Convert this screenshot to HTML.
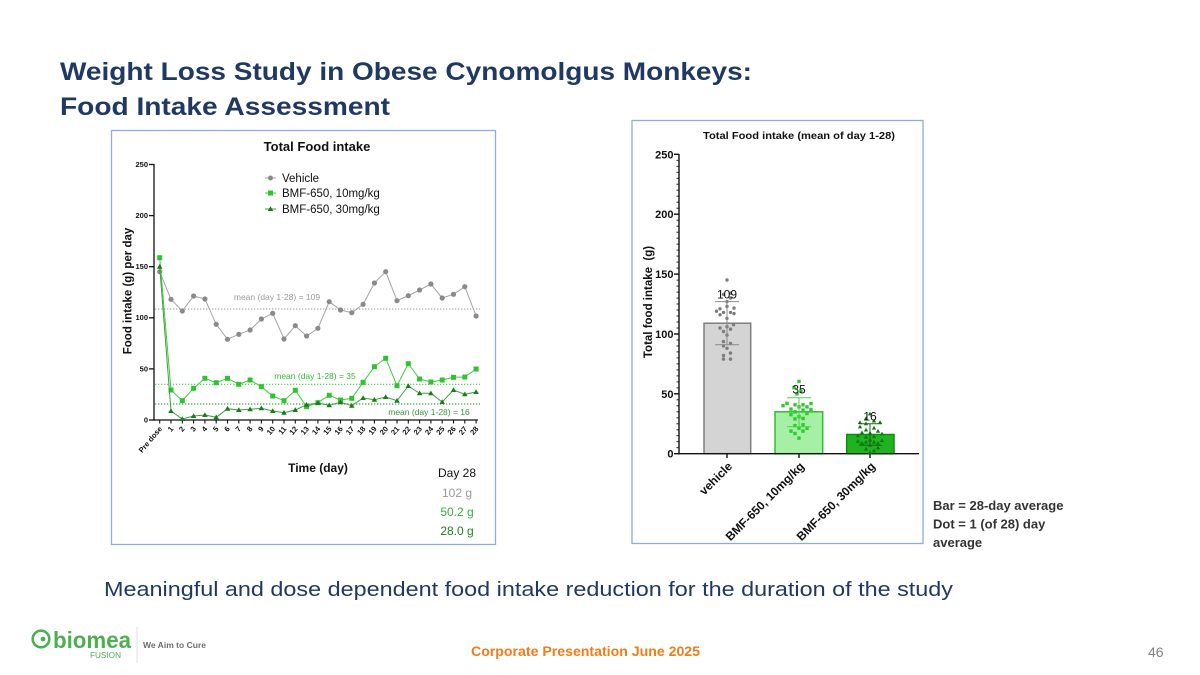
<!DOCTYPE html>
<html><head><meta charset="utf-8"><style>
html,body{margin:0;padding:0;background:#fff;}
svg{display:block;font-family:"Liberation Sans",sans-serif;}
</style></head><body>
<svg width="1200" height="675" viewBox="0 0 1200 675" xmlns="http://www.w3.org/2000/svg">
<defs>
<marker id="mc" markerUnits="userSpaceOnUse" markerWidth="8" markerHeight="8" refX="4" refY="4"><circle cx="4" cy="4" r="2.6" fill="#8a8a8a"/></marker>
<marker id="ms" markerUnits="userSpaceOnUse" markerWidth="8" markerHeight="8" refX="4" refY="4"><rect x="1.5" y="1.5" width="5" height="5" fill="#2fc42f"/></marker>
<marker id="mt" markerUnits="userSpaceOnUse" markerWidth="8" markerHeight="8" refX="4" refY="4"><polygon points="4,1.2 6.8,6 1.2,6" fill="#1a7d1a"/></marker>
</defs>
<rect width="1200" height="675" fill="#fff"/>

<!-- Title -->
<text x="60" y="80" font-size="25" font-weight="bold" fill="#1f3864" textLength="692" lengthAdjust="spacingAndGlyphs">Weight Loss Study in Obese Cynomolgus Monkeys:</text>
<text x="60" y="115" font-size="25" font-weight="bold" fill="#1f3864" textLength="330" lengthAdjust="spacingAndGlyphs">Food Intake Assessment</text>

<!-- LEFT CHART -->
<rect x="111.5" y="130.5" width="384" height="414" fill="none" stroke="#8faadc" stroke-width="1.3"/>
<text x="317" y="151" font-size="13" font-weight="bold" text-anchor="middle" fill="#111">Total Food intake</text>

<!-- axes -->
<g stroke="#111" stroke-width="1.3">
<line x1="154" y1="164" x2="154" y2="420.6"/>
<line x1="153.4" y1="420" x2="478" y2="420"/>
<line x1="149" y1="164.5" x2="154" y2="164.5"/>
<line x1="149" y1="215.6" x2="154" y2="215.6"/>
<line x1="149" y1="266.7" x2="154" y2="266.7"/>
<line x1="149" y1="317.8" x2="154" y2="317.8"/>
<line x1="149" y1="368.9" x2="154" y2="368.9"/>
<line x1="149" y1="420" x2="154" y2="420"/>
</g>
<g font-size="7.5" font-weight="bold" text-anchor="end" fill="#111">
<text x="148" y="167">250</text>
<text x="148" y="218">200</text>
<text x="148" y="269">150</text>
<text x="148" y="320">100</text>
<text x="148" y="371.5">50</text>
<text x="148" y="422.5">0</text>
</g>
<!-- x ticks -->
<g stroke="#111" stroke-width="1.1">
<line x1="159.7" y1="420" x2="159.7" y2="423.5"/><line x1="171" y1="420" x2="171" y2="423.5"/><line x1="182.3" y1="420" x2="182.3" y2="423.5"/><line x1="193.6" y1="420" x2="193.6" y2="423.5"/><line x1="204.9" y1="420" x2="204.9" y2="423.5"/><line x1="216.2" y1="420" x2="216.2" y2="423.5"/><line x1="227.5" y1="420" x2="227.5" y2="423.5"/><line x1="238.8" y1="420" x2="238.8" y2="423.5"/><line x1="250.1" y1="420" x2="250.1" y2="423.5"/><line x1="261.4" y1="420" x2="261.4" y2="423.5"/><line x1="272.7" y1="420" x2="272.7" y2="423.5"/><line x1="284" y1="420" x2="284" y2="423.5"/><line x1="295.3" y1="420" x2="295.3" y2="423.5"/><line x1="306.6" y1="420" x2="306.6" y2="423.5"/><line x1="317.9" y1="420" x2="317.9" y2="423.5"/><line x1="329.2" y1="420" x2="329.2" y2="423.5"/><line x1="340.5" y1="420" x2="340.5" y2="423.5"/><line x1="351.8" y1="420" x2="351.8" y2="423.5"/><line x1="363.1" y1="420" x2="363.1" y2="423.5"/><line x1="374.4" y1="420" x2="374.4" y2="423.5"/><line x1="385.7" y1="420" x2="385.7" y2="423.5"/><line x1="397" y1="420" x2="397" y2="423.5"/><line x1="408.3" y1="420" x2="408.3" y2="423.5"/><line x1="419.6" y1="420" x2="419.6" y2="423.5"/><line x1="430.9" y1="420" x2="430.9" y2="423.5"/><line x1="442.2" y1="420" x2="442.2" y2="423.5"/><line x1="453.5" y1="420" x2="453.5" y2="423.5"/><line x1="464.8" y1="420" x2="464.8" y2="423.5"/><line x1="476.1" y1="420" x2="476.1" y2="423.5"/>
</g>
<g font-size="7.5" font-weight="bold" text-anchor="end" fill="#111">
<text transform="translate(162.5,429) rotate(-50)">Pre dose</text>
<text transform="translate(173.8,429) rotate(-50)">1</text>
<text transform="translate(185.1,429) rotate(-50)">2</text>
<text transform="translate(196.4,429) rotate(-50)">3</text>
<text transform="translate(207.7,429) rotate(-50)">4</text>
<text transform="translate(219,429) rotate(-50)">5</text>
<text transform="translate(230.3,429) rotate(-50)">6</text>
<text transform="translate(241.6,429) rotate(-50)">7</text>
<text transform="translate(252.9,429) rotate(-50)">8</text>
<text transform="translate(264.2,429) rotate(-50)">9</text>
<text transform="translate(275.5,429) rotate(-50)">10</text>
<text transform="translate(286.8,429) rotate(-50)">11</text>
<text transform="translate(298.1,429) rotate(-50)">12</text>
<text transform="translate(309.4,429) rotate(-50)">13</text>
<text transform="translate(320.7,429) rotate(-50)">14</text>
<text transform="translate(332,429) rotate(-50)">15</text>
<text transform="translate(343.3,429) rotate(-50)">16</text>
<text transform="translate(354.6,429) rotate(-50)">17</text>
<text transform="translate(365.9,429) rotate(-50)">18</text>
<text transform="translate(377.2,429) rotate(-50)">19</text>
<text transform="translate(388.5,429) rotate(-50)">20</text>
<text transform="translate(399.8,429) rotate(-50)">21</text>
<text transform="translate(411.1,429) rotate(-50)">22</text>
<text transform="translate(422.4,429) rotate(-50)">23</text>
<text transform="translate(433.7,429) rotate(-50)">24</text>
<text transform="translate(445,429) rotate(-50)">25</text>
<text transform="translate(456.3,429) rotate(-50)">26</text>
<text transform="translate(467.6,429) rotate(-50)">27</text>
<text transform="translate(478.9,429) rotate(-50)">28</text>
</g>
<text transform="translate(131.5,291) rotate(-90)" font-size="11.5" font-weight="bold" text-anchor="middle" fill="#111">Food intake (g) per day</text>
<text x="318" y="472" font-size="12" font-weight="bold" text-anchor="middle" fill="#111">Time (day)</text>

<!-- mean lines -->
<line x1="155" y1="309" x2="480" y2="309" stroke="#aaaaaa" stroke-width="1.2" stroke-dasharray="1.3 1.7"/>
<line x1="155" y1="384.3" x2="480" y2="384.3" stroke="#55c855" stroke-width="1.2" stroke-dasharray="1.3 1.7"/>
<line x1="155" y1="404" x2="480" y2="404" stroke="#4a9e4a" stroke-width="1.2" stroke-dasharray="1.3 1.7"/>
<text x="277" y="300" font-size="8.5" text-anchor="middle" fill="#9a9a9a">mean (day 1-28) = 109</text>
<text x="315" y="379" font-size="8.5" text-anchor="middle" fill="#33bb33">mean (day 1-28) = 35</text>
<text x="429" y="415" font-size="8.5" text-anchor="middle" fill="#3a953a">mean (day 1-28) = 16</text>

<!-- series -->
<polyline fill="none" stroke="#a3a3a3" stroke-width="1" marker-start="url(#mc)" marker-mid="url(#mc)" marker-end="url(#mc)" points="159.7,271.7 171,299.3 182.3,311 193.6,296 204.9,299 216.2,324.3 227.5,339.3 238.8,334.3 250.1,330 261.4,319 272.7,313.3 284,339 295.3,325.7 306.6,336 317.9,328.3 329.2,301.7 340.5,310 351.8,312.7 363.1,304.3 374.4,283 385.7,271.7 397,300.7 408.3,295.7 419.6,290 430.9,284 442.2,298 453.5,294.3 464.8,286.7 476.1,316"/>
<polyline fill="none" stroke="#3ccc3c" stroke-width="1" marker-start="url(#ms)" marker-mid="url(#ms)" marker-end="url(#ms)" points="159.7,257.7 171,390 182.3,400.7 193.6,388.3 204.9,378.3 216.2,382.7 227.5,378.3 238.8,384.3 250.1,380 261.4,386.7 272.7,396 284,400.7 295.3,390.3 306.6,406.7 317.9,402.7 329.2,395.3 340.5,400 351.8,398.3 363.1,382.3 374.4,366.7 385.7,358.3 397,385.7 408.3,363.7 419.6,379 430.9,382 442.2,380 453.5,377.3 464.8,377 476.1,369"/>
<polyline fill="none" stroke="#3f9f3f" stroke-width="1" marker-start="url(#mt)" marker-mid="url(#mt)" marker-end="url(#mt)" points="159.7,266.7 171,411 182.3,419 193.6,416 204.9,415 216.2,417.3 227.5,408.7 238.8,410 250.1,409.3 261.4,408.3 272.7,411 284,412.7 295.3,410 306.6,404.7 317.9,403 329.2,405.3 340.5,402.3 351.8,405.7 363.1,398 374.4,399.7 385.7,397 397,400.7 408.3,386 419.6,393.3 430.9,393.3 442.2,402 453.5,390 464.8,394.3 476.1,392"/>

<!-- legend -->
<line x1="265" y1="178" x2="276" y2="178" stroke="#a3a3a3" stroke-width="1"/><circle cx="270.5" cy="178" r="2.5" fill="#8a8a8a"/>
<text x="282" y="182" font-size="11.5" fill="#111">Vehicle</text>
<line x1="265" y1="193" x2="276" y2="193" stroke="#3ccc3c" stroke-width="1"/><rect x="268" y="190.5" width="5" height="5" fill="#2fc42f"/>
<text x="282" y="197" font-size="11.5" fill="#111">BMF-650, 10mg/kg</text>
<line x1="265" y1="209" x2="276" y2="209" stroke="#3f9f3f" stroke-width="1"/><polygon points="270.5,206.2 273.3,211 267.7,211" fill="#1a7d1a"/>
<text x="282" y="213" font-size="11.5" fill="#111">BMF-650, 30mg/kg</text>

<!-- Day 28 values -->
<text x="457" y="477" font-size="12" text-anchor="middle" fill="#111">Day 28</text>
<text x="457" y="497" font-size="12" text-anchor="middle" fill="#9a9a9a">102 g</text>
<text x="457" y="516" font-size="12" text-anchor="middle" fill="#35b035">50.2 g</text>
<text x="457" y="535" font-size="12" text-anchor="middle" fill="#1f7f1f">28.0 g</text>

<!-- RIGHT CHART -->
<rect x="632" y="120.5" width="291" height="423" fill="none" stroke="#8faadc" stroke-width="1.3"/>
<text x="799" y="139" font-size="10.5" font-weight="bold" text-anchor="middle" fill="#111" textLength="192" lengthAdjust="spacingAndGlyphs">Total Food intake (mean of day 1-28)</text>
<text transform="translate(652,302) rotate(-90)" font-size="11.5" font-weight="bold" text-anchor="middle" fill="#111" xml:space="preserve">Total food intake  (g)</text>

<!-- bars -->
<rect x="704" y="323.2" width="46.7" height="130.5" fill="#d4d4d4" stroke="#7f7f7f" stroke-width="1.5"/>
<rect x="775" y="411.8" width="47.7" height="41.9" fill="#a6f0a6" stroke="#2fbf2f" stroke-width="1.5"/>
<rect x="846.7" y="434.5" width="47.3" height="19.2" fill="#1fb41f" stroke="#0f8f0f" stroke-width="1.5"/>

<!-- axes right -->
<g stroke="#111" stroke-width="1.4">
<line x1="679" y1="154" x2="679" y2="454.4"/>
<line x1="678.3" y1="453.7" x2="919" y2="453.7"/>
<line x1="674" y1="154.3" x2="679" y2="154.3"/>
<line x1="674" y1="214.2" x2="679" y2="214.2"/>
<line x1="674" y1="274.1" x2="679" y2="274.1"/>
<line x1="674" y1="334" x2="679" y2="334"/>
<line x1="674" y1="393.8" x2="679" y2="393.8"/>
<line x1="674" y1="453.7" x2="679" y2="453.7"/>
<line x1="727" y1="453.7" x2="727" y2="458"/>
<line x1="799" y1="453.7" x2="799" y2="458"/>
<line x1="870" y1="453.7" x2="870" y2="458"/>
</g>
<g stroke="#111" stroke-width="0.9">
<line x1="676.5" y1="160.3" x2="679" y2="160.3"/><line x1="676.5" y1="166.3" x2="679" y2="166.3"/><line x1="676.5" y1="172.3" x2="679" y2="172.3"/><line x1="676.5" y1="178.3" x2="679" y2="178.3"/><line x1="676.5" y1="184.2" x2="679" y2="184.2"/><line x1="676.5" y1="190.2" x2="679" y2="190.2"/><line x1="676.5" y1="196.2" x2="679" y2="196.2"/><line x1="676.5" y1="202.2" x2="679" y2="202.2"/><line x1="676.5" y1="208.2" x2="679" y2="208.2"/>
<line x1="676.5" y1="220.2" x2="679" y2="220.2"/><line x1="676.5" y1="226.2" x2="679" y2="226.2"/><line x1="676.5" y1="232.2" x2="679" y2="232.2"/><line x1="676.5" y1="238.2" x2="679" y2="238.2"/><line x1="676.5" y1="244.1" x2="679" y2="244.1"/><line x1="676.5" y1="250.1" x2="679" y2="250.1"/><line x1="676.5" y1="256.1" x2="679" y2="256.1"/><line x1="676.5" y1="262.1" x2="679" y2="262.1"/><line x1="676.5" y1="268.1" x2="679" y2="268.1"/>
<line x1="676.5" y1="280.1" x2="679" y2="280.1"/><line x1="676.5" y1="286.1" x2="679" y2="286.1"/><line x1="676.5" y1="292.1" x2="679" y2="292.1"/><line x1="676.5" y1="298.1" x2="679" y2="298.1"/><line x1="676.5" y1="304" x2="679" y2="304"/><line x1="676.5" y1="310" x2="679" y2="310"/><line x1="676.5" y1="316" x2="679" y2="316"/><line x1="676.5" y1="322" x2="679" y2="322"/><line x1="676.5" y1="328" x2="679" y2="328"/>
<line x1="676.5" y1="340" x2="679" y2="340"/><line x1="676.5" y1="346" x2="679" y2="346"/><line x1="676.5" y1="351.9" x2="679" y2="351.9"/><line x1="676.5" y1="357.9" x2="679" y2="357.9"/><line x1="676.5" y1="363.9" x2="679" y2="363.9"/><line x1="676.5" y1="369.9" x2="679" y2="369.9"/><line x1="676.5" y1="375.9" x2="679" y2="375.9"/><line x1="676.5" y1="381.9" x2="679" y2="381.9"/><line x1="676.5" y1="387.9" x2="679" y2="387.9"/>
<line x1="676.5" y1="399.8" x2="679" y2="399.8"/><line x1="676.5" y1="405.8" x2="679" y2="405.8"/><line x1="676.5" y1="411.8" x2="679" y2="411.8"/><line x1="676.5" y1="417.8" x2="679" y2="417.8"/><line x1="676.5" y1="423.8" x2="679" y2="423.8"/><line x1="676.5" y1="429.8" x2="679" y2="429.8"/><line x1="676.5" y1="435.7" x2="679" y2="435.7"/><line x1="676.5" y1="441.7" x2="679" y2="441.7"/><line x1="676.5" y1="447.7" x2="679" y2="447.7"/>
</g>
<g font-size="11" font-weight="bold" text-anchor="end" fill="#111">
<text x="673.5" y="158.3">250</text>
<text x="673.5" y="218.2">200</text>
<text x="673.5" y="278.1">150</text>
<text x="673.5" y="338">100</text>
<text x="673.5" y="397.8">50</text>
<text x="673.5" y="457.7">0</text>
</g>
<g font-size="12" font-weight="bold" text-anchor="end" fill="#111">
<text transform="translate(733,467) rotate(-45)">vehicle</text>
<text transform="translate(805,467) rotate(-45)">BMF-650, 10mg/kg</text>
<text transform="translate(876,467) rotate(-45)">BMF-650, 30mg/kg</text>
</g>

<!-- vehicle dots -->
<g fill="#7c7c7c">
<circle cx="723.5" cy="359.1" r="1.7"/><circle cx="730.5" cy="359.1" r="1.7"/><circle cx="723.5" cy="355.5" r="1.7"/><circle cx="730.5" cy="353.1" r="1.7"/><circle cx="727" cy="348.3" r="1.7"/><circle cx="723.5" cy="345.9" r="1.7"/><circle cx="730.5" cy="343.5" r="1.7"/><circle cx="723.5" cy="341.6" r="1.7"/>
<circle cx="727" cy="335.1" r="1.7"/><circle cx="723.5" cy="331.5" r="1.7"/><circle cx="730.5" cy="329.2" r="1.7"/><circle cx="720" cy="328" r="1.7"/><circle cx="727" cy="326.7" r="1.7"/><circle cx="733.5" cy="324.8" r="1.7"/>
<circle cx="727" cy="318.4" r="1.7"/><circle cx="720" cy="314.8" r="1.7"/><circle cx="734" cy="313.6" r="1.7"/><circle cx="723.5" cy="312.4" r="1.7"/><circle cx="730.5" cy="312.4" r="1.7"/><circle cx="716.5" cy="311.2" r="1.7"/>
<circle cx="720" cy="308.8" r="1.7"/><circle cx="734" cy="308.1" r="1.7"/><circle cx="727" cy="306.4" r="1.7"/><circle cx="727" cy="301.6" r="1.7"/><circle cx="730.5" cy="298" r="1.7"/><circle cx="723.5" cy="294.4" r="1.7"/><circle cx="730.5" cy="293.2" r="1.7"/><circle cx="727" cy="280" r="1.7"/>
</g>
<!-- vehicle error bar -->
<g stroke="#8a8a8a" stroke-width="1">
<line x1="727" y1="301.6" x2="727" y2="344.7"/>
<line x1="715" y1="301.6" x2="739" y2="301.6"/>
<line x1="715" y1="344.7" x2="739" y2="344.7"/>
</g>
<text x="727" y="298.5" font-size="12" text-anchor="middle" fill="#111">109</text>

<!-- 10mg dots -->
<g fill="#2ecb2e">
<rect x="797.3" y="436.4" width="3.4" height="3.4"/><rect x="793.3" y="431.8" width="3.4" height="3.4"/><rect x="801.3" y="429.4" width="3.4" height="3.4"/><rect x="789.3" y="429.4" width="3.4" height="3.4"/><rect x="797.3" y="426.5" width="3.4" height="3.4"/><rect x="805.3" y="426.6" width="3.4" height="3.4"/><rect x="793.3" y="423.9" width="3.4" height="3.4"/><rect x="801.3" y="423" width="3.4" height="3.4"/>
<rect x="793.3" y="417.2" width="3.4" height="3.4"/><rect x="801.3" y="416.8" width="3.4" height="3.4"/><rect x="797.3" y="414.9" width="3.4" height="3.4"/><rect x="789.3" y="413" width="3.4" height="3.4"/><rect x="805.3" y="411.8" width="3.4" height="3.4"/><rect x="793.3" y="410.2" width="3.4" height="3.4"/>
<rect x="801.3" y="408.3" width="3.4" height="3.4"/><rect x="809.3" y="407.8" width="3.4" height="3.4"/><rect x="789.3" y="407.4" width="3.4" height="3.4"/><rect x="797.3" y="405.2" width="3.4" height="3.4"/><rect x="805.3" y="405.2" width="3.4" height="3.4"/><rect x="781.3" y="404" width="3.4" height="3.4"/><rect x="793.3" y="403.1" width="3.4" height="3.4"/><rect x="801.3" y="403.1" width="3.4" height="3.4"/><rect x="809.3" y="401.9" width="3.4" height="3.4"/><rect x="785.3" y="401.6" width="3.4" height="3.4"/>
<rect x="795.3" y="392.2" width="3.4" height="3.4"/><rect x="799.3" y="389.5" width="3.4" height="3.4"/><rect x="792.3" y="386" width="3.4" height="3.4"/><rect x="797.3" y="379.7" width="3.4" height="3.4"/>
</g>
<g stroke="#4fd04f" stroke-width="1">
<line x1="799" y1="397.7" x2="799" y2="426.7"/>
<line x1="787" y1="397.7" x2="811" y2="397.7"/>
<line x1="787" y1="426.7" x2="811" y2="426.7"/>
</g>
<text x="799" y="393.5" font-size="12" text-anchor="middle" fill="#111">35</text>

<!-- 30mg dots -->
<g fill="#137813">
<polygon points="870,450.3 872.2,454.1 867.8,454.1"/><polygon points="874,448.4 876.2,452.2 871.8,452.2"/><polygon points="866,446.8 868.2,450.6 863.8,450.6"/><polygon points="878,445.6 880.2,449.4 875.8,449.4"/><polygon points="870,443 872.2,446.8 867.8,446.8"/><polygon points="862,441 864.2,444.8 859.8,444.8"/><polygon points="878,441 880.2,444.8 875.8,444.8"/><polygon points="866,439.8 868.2,443.6 863.8,443.6"/><polygon points="874,439.8 876.2,443.6 871.8,443.6"/><polygon points="858,438.9 860.2,442.7 855.8,442.7"/><polygon points="882,438.2 884.2,442 879.8,442"/><polygon points="870,437.8 872.2,441.6 867.8,441.6"/>
<polygon points="866,434.7 868.2,438.5 863.8,438.5"/><polygon points="874,434.3 876.2,438.1 871.8,438.1"/><polygon points="858,433.5 860.2,437.3 855.8,437.3"/><polygon points="882,431.6 884.2,435.4 879.8,435.4"/><polygon points="870,430.8 872.2,434.6 867.8,434.6"/><polygon points="862,430.4 864.2,434.2 859.8,434.2"/><polygon points="878,428.9 880.2,432.7 875.8,432.7"/><polygon points="866,427.7 868.2,431.5 863.8,431.5"/><polygon points="874,425.8 876.2,429.6 871.8,429.6"/><polygon points="860,424.6 862.2,428.4 857.8,428.4"/>
<polygon points="866,421.4 868.2,425.2 863.8,425.2"/><polygon points="860,420.2 862.2,424 857.8,424"/><polygon points="880,420.2 882.2,424 877.8,424"/><polygon points="874,418.7 876.2,422.5 871.8,422.5"/><polygon points="866,416.3 868.2,420.1 863.8,420.1"/><polygon points="870,411.6 872.2,415.4 867.8,415.4"/>
</g>
<g stroke="#0e6a0e" stroke-width="1">
<line x1="870" y1="423.7" x2="870" y2="445.3"/>
<line x1="859" y1="423.7" x2="882" y2="423.7"/>
<line x1="859" y1="445.3" x2="882" y2="445.3"/>
</g>
<text x="870" y="420.5" font-size="12" text-anchor="middle" fill="#111">16</text>

<!-- notes -->
<g font-size="13" font-weight="bold" fill="#333">
<text x="933" y="510">Bar = 28-day average</text>
<text x="933" y="528.5">Dot = 1 (of 28) day</text>
<text x="933" y="547">average</text>
</g>

<!-- subtitle -->
<text x="104" y="596" font-size="20" fill="#1f3864" textLength="849" lengthAdjust="spacingAndGlyphs">Meaningful and dose dependent food intake reduction for the duration of the study</text>

<!-- footer -->
<circle cx="41" cy="639" r="8.3" fill="none" stroke="#4cb050" stroke-width="2.6"/>
<circle cx="43" cy="639" r="2.4" fill="#4cb050"/>
<text x="53" y="648" font-size="23" font-weight="bold" fill="#4cb050" textLength="78" lengthAdjust="spacingAndGlyphs">biomea</text>
<text x="90" y="658" font-size="8" fill="#4cb050" textLength="31" lengthAdjust="spacingAndGlyphs">FUSION</text>
<line x1="137" y1="627" x2="137" y2="663" stroke="#e2e2e2" stroke-width="1"/>
<text x="143" y="648" font-size="8.5" font-weight="bold" fill="#6d6d6d" textLength="63" lengthAdjust="spacingAndGlyphs">We Aim to Cure</text>
<text x="471" y="656" font-size="13.5" font-weight="bold" fill="#f07c18" textLength="229" lengthAdjust="spacingAndGlyphs">Corporate Presentation June 2025</text>
<text x="1148" y="657" font-size="14" fill="#7f7f7f">46</text>
</svg>
</body></html>
